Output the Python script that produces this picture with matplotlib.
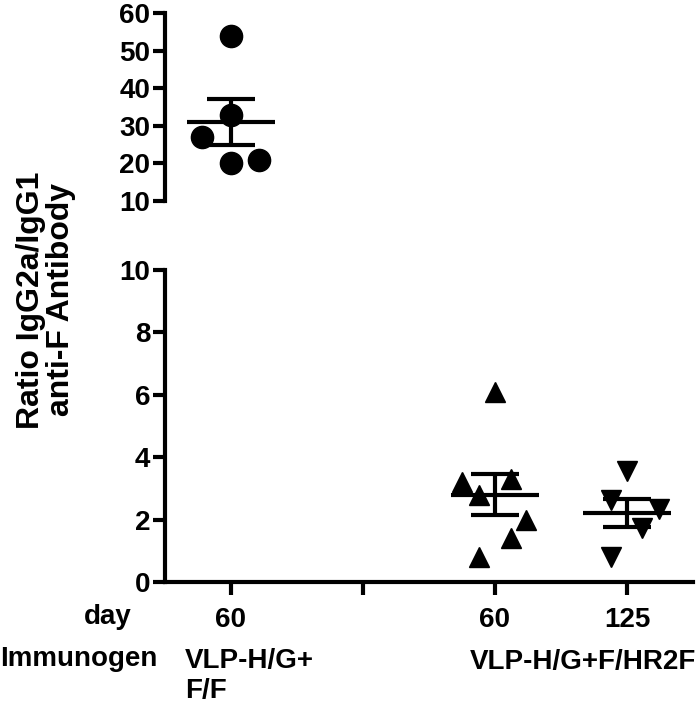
import numpy as np
import matplotlib
matplotlib.use('Agg')
import matplotlib.pyplot as plt

plt.rcParams['font.family'] = ['Liberation Sans', 'DejaVu Sans']
plt.rcParams['font.weight'] = 'bold'

# values
groups = [1, 3, 4]
g1_vals = [54, 33, 27, 20, 21]
g2_vals = [6.1, 3.2, 2.8, 3.3, 2.0, 1.4, 0.8]
g3_vals = [3.55, 2.63, 2.34, 1.73, 0.8]
# scatter jitter of the points within a column
g1_jit = [0, 0, -0.22, 0, 0.21]
g2_jit = [0, -0.25, -0.12, 0.12, 0.235, 0.12, -0.12]
g3_jit = [0, -0.12, 0.24, 0.115, -0.12]

xtick_pos = [1, 2, 3, 4]
xtick_labels = ['60', '', '60', '125']
top_yticks = [10, 20, 30, 40, 50, 60]
bot_yticks = [0, 2, 4, 6, 8, 10]

LW = 3.0
FS = 20

fig = plt.figure(figsize=(7, 7.08), dpi=100)
ax_top = fig.add_axes([165/700, 1-201/708, 528/700, 188/708])
ax_bot = fig.add_axes([165/700, 1-582/708, 528/700, 312/708])


def column(ax, x, vals, jit, marker, ms):
    vals = np.array(vals)
    ax.plot(x + np.array(jit), vals, linestyle='none', marker=marker,
            ms=ms, color='black', zorder=3, clip_on=False)
    m = vals.mean()
    sem = vals.std(ddof=1) / np.sqrt(len(vals))
    ax.hlines(m, x - 0.33, x + 0.33, color='black', lw=LW, zorder=4)
    ax.errorbar(x, m, yerr=sem, fmt='none', ecolor='black', elinewidth=LW,
                capsize=17, capthick=LW, zorder=4)


column(ax_top, groups[0], g1_vals, g1_jit, 'o', 16)
column(ax_bot, groups[1], g2_vals, g2_jit, '^', 14.5)
column(ax_bot, groups[2], g3_vals, g3_jit, 'v', 14.5)

for ax in (ax_top, ax_bot):
    ax.set_xlim(0.5, 4.5)
    ax.spines['top'].set_visible(False)
    ax.spines['right'].set_visible(False)
    ax.spines['left'].set_linewidth(LW)
    ax.spines['bottom'].set_linewidth(LW)
    ax.tick_params(axis='y', direction='out', length=9, width=LW,
                   pad=1.5, labelsize=FS)
    ax.tick_params(axis='y', which='minor', direction='in', length=6,
                   width=LW)

ax_top.set_ylim(10, 60)
ax_top.set_yticks(top_yticks)
ax_top.set_yticks([10, 60], minor=True)
ax_top.spines['bottom'].set_visible(False)
ax_top.set_xticks([])

ax_bot.set_ylim(0, 10)
ax_bot.set_yticks(bot_yticks)
ax_bot.set_yticks([10], minor=True)
ax_bot.set_xticks(xtick_pos)
ax_bot.set_xticklabels(xtick_labels)
ax_bot.tick_params(axis='x', direction='out', length=9, width=LW,
                   pad=9, labelsize=FS)

fig.text(46/700, 1-300/708, 'Ratio IgG2a/IgG1\nanti-F Antibody',
         rotation=90, ha='center', va='center', fontsize=23,
         fontweight='bold', linespacing=1.0)

fig.text(108/700, 1-617/708, 'day', ha='center', va='center',
         fontsize=FS, fontweight='bold')
fig.text(0, 1-659/708, 'Immunogen', ha='left', va='center',
         fontsize=FS, fontweight='bold')
fig.text(185/700, 1-648/708, 'VLP-H/G+\nF/F', ha='left', va='top',
         fontsize=FS, fontweight='bold', linespacing=1.2)
fig.text(470/700, 1-662/708, 'VLP-H/G+F/HR2F', ha='left', va='center',
         fontsize=FS, fontweight='bold')

fig.savefig('out.png', dpi=100)
